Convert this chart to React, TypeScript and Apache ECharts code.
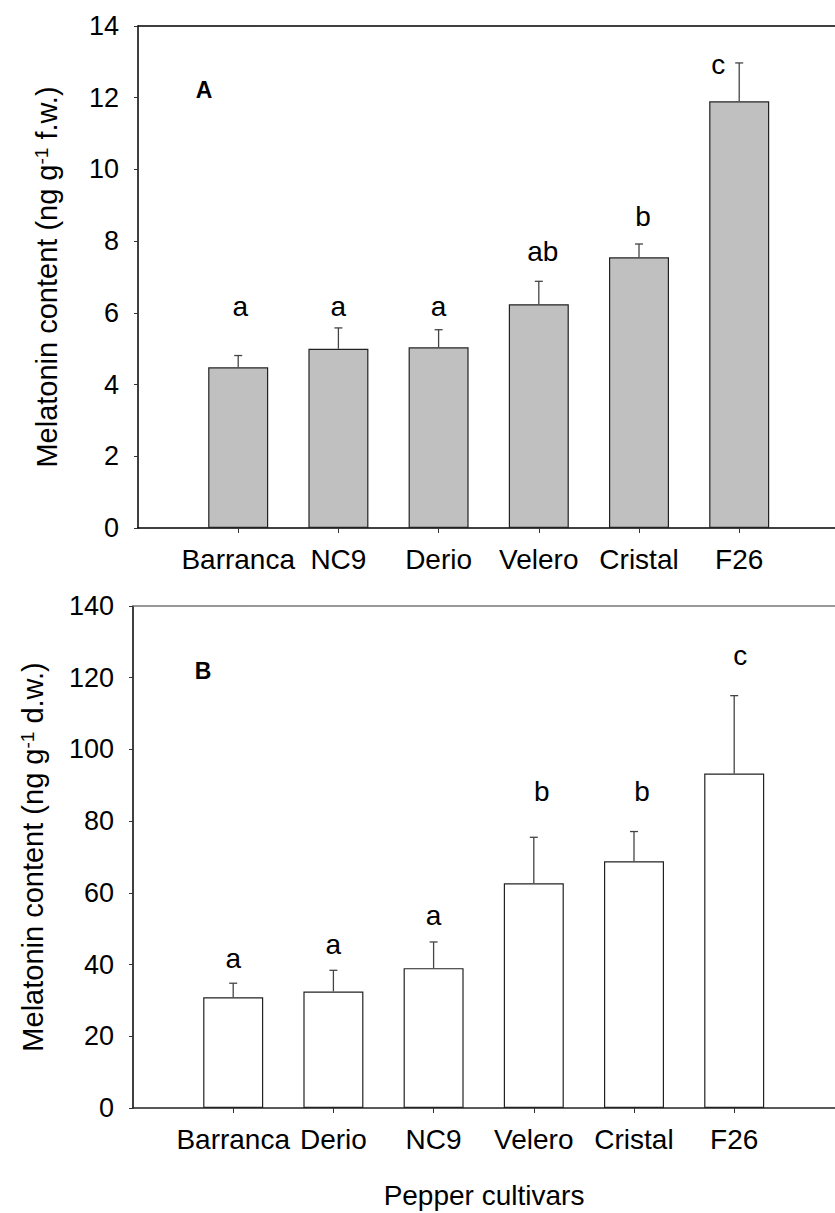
import React, { useEffect, useRef } from "react";
import * as echarts from "echarts";

// Panel A (fresh weight)
const catsA = ["Barranca", "NC9", "Derio", "Velero", "Cristal", "F26"];
const meanA = [4.48, 5.0, 5.04, 6.24, 7.55, 11.9];
const errTopA = [4.81, 5.58, 5.53, 6.88, 7.92, 12.97];
const lettersA = ["a", "a", "a", "ab", "b", "c"];
const letterXA = [1.02, 2.0, 3.0, 4.04, 5.04, 5.79];
const letterYA = [6.18, 6.18, 6.18, 7.7, 8.68, 12.92];
const ticksA = [0, 2, 4, 6, 8, 10, 12, 14];

// Panel B (dry weight)
const catsB = ["Barranca", "Derio", "NC9", "Velero", "Cristal", "F26"];
const meanB = [30.9, 32.5, 39.0, 62.7, 68.8, 93.3];
const errTopB = [34.8, 38.4, 46.3, 75.5, 77.1, 115.0];
const lettersB = ["a", "a", "a", "b", "b", "c"];
const letterXB = [1.0, 2.0, 3.0, 4.08, 5.08, 6.06];
const letterYB = [41.7, 45.6, 53.7, 88.3, 88.3, 126.2];
const ticksB = [0, 20, 40, 60, 80, 100, 120, 140];

const positions = [1, 2, 3, 4, 5, 6];
const FONT = "'Liberation Sans', Arial, Helvetica, sans-serif";

function xAxes(gridIndex: number, max: number, cats: string[], lineColor: string, topColor: string, name?: string) {
  return [
    {
      gridIndex,
      type: "value",
      min: 0,
      max,
      position: "bottom",
      name: name || "",
      nameLocation: "middle",
      nameGap: 73,
      nameTextStyle: { fontSize: 28, color: "#000", fontFamily: FONT },
      axisLine: { show: true, onZero: false, lineStyle: { color: lineColor, width: 1.5 } },
      axisTick: { show: true, customValues: positions, length: 5, inside: false, lineStyle: { color: "#333", width: 1 } },
      axisLabel: {
        show: true,
        customValues: positions,
        formatter: (v: number) => cats[Math.round(v) - 1] || "",
        fontSize: 28,
        color: "#000",
        fontFamily: FONT,
        margin: 17,
      },
      splitLine: { show: false },
    },
    {
      gridIndex,
      type: "value",
      min: 0,
      max,
      position: "top",
      axisLine: { show: true, onZero: false, lineStyle: { color: topColor, width: 1.5 } },
      axisTick: { show: false },
      axisLabel: { show: false },
      splitLine: { show: false },
    },
  ];
}

function yAxis(gridIndex: number, max: number, interval: number, ticks: number[], unit: string, gap: number) {
  return {
    gridIndex,
    type: "value",
    min: 0,
    max,
    interval,
    name: "Melatonin content (ng g{sup|-1} " + unit + ")",
    nameLocation: "middle",
    nameGap: gap,
    nameTextStyle: {
      fontSize: 29,
      color: "#000",
      fontFamily: FONT,
      rich: {
        sup: { fontSize: 19, fontFamily: FONT, color: "#000", verticalAlign: "top", lineHeight: 19 },
      },
    },
    axisLine: { show: true, onZero: false, lineStyle: { color: "#000", width: 1.5 } },
    axisTick: { show: true, length: 4, lineStyle: { color: "#333", width: 1 } },
    axisLabel: {
      show: true,
      customValues: ticks,
      fontSize: 27,
      color: "#000",
      fontFamily: FONT,
      margin: 19,
    },
    splitLine: { show: false },
  };
}

function barData(means: number[]) {
  return means.map((m, i) => [positions[i], m]);
}

function errData(means: number[], tops: number[]) {
  return means.map((m, i) => [positions[i], m, tops[i]]);
}

function letterData(xs: number[], ys: number[]) {
  return xs.map((x, i) => [x, ys[i]]);
}

function errSeries(xi: number, yi: number, means: number[], tops: number[]) {
  return {
    type: "custom",
    xAxisIndex: xi,
    yAxisIndex: yi,
    data: errData(means, tops),
    z: 3,
    renderItem: (params: any, api: any) => {
      const x = api.value(0);
      const p0 = api.coord([x, api.value(1)]);
      const p1 = api.coord([x, api.value(2)]);
      const st = { stroke: "#444", lineWidth: 1.3 };
      return {
        type: "group",
        children: [
          { type: "line", shape: { x1: p0[0], y1: p0[1], x2: p1[0], y2: p1[1] }, style: st },
          { type: "line", shape: { x1: p1[0] - 4, y1: p1[1], x2: p1[0] + 4, y2: p1[1] }, style: st },
        ],
      };
    },
  };
}

function letterSeries(xi: number, yi: number, xs: number[], ys: number[], letters: string[]) {
  return {
    type: "custom",
    xAxisIndex: xi,
    yAxisIndex: yi,
    data: letterData(xs, ys),
    z: 4,
    renderItem: (params: any, api: any) => {
      const p = api.coord([api.value(0), api.value(1)]);
      return {
        type: "text",
        x: p[0],
        y: p[1],
        style: {
          text: letters[params.dataIndex],
          fontSize: 28,
          fontFamily: FONT,
          fill: "#000",
          align: "center",
          verticalAlign: "middle",
        },
      };
    },
  };
}

export default function App() {
  const ref = useRef<HTMLDivElement>(null);
  useEffect(() => {
    if (!ref.current) return;
    const chart = echarts.init(ref.current, null, { renderer: "svg" });
    const option: any = {
      animation: false,
      backgroundColor: "#fff",
      grid: [
        { left: 138, top: 26, width: 697, height: 502 },
        { left: 133, top: 606, width: 702, height: 502 },
      ],
      xAxis: [
        ...xAxes(0, 6.956, catsA, "#000", "#000"),
        ...xAxes(1, 7.006, catsB, "#222", "#777", "Pepper cultivars"),
      ],
      yAxis: [yAxis(0, 14, 2, ticksA, "f.w.", 77), yAxis(1, 140, 20, ticksB, "d.w.", 86)],
      graphic: [
        { type: "text", x: 204, y: 90, style: { text: "A", fontSize: 23, fontWeight: "bold", fontFamily: FONT, fill: "#000", align: "center", verticalAlign: "middle" } },
        { type: "text", x: 203, y: 671, style: { text: "B", fontSize: 23, fontWeight: "bold", fontFamily: FONT, fill: "#000", align: "center", verticalAlign: "middle" } },
      ],
      series: [
        {
          type: "bar",
          xAxisIndex: 0,
          yAxisIndex: 0,
          data: barData(meanA),
          barWidth: 60,
          itemStyle: { color: "#c0c0c0", borderColor: "#222", borderWidth: 1.2 },
        },
        errSeries(0, 0, meanA, errTopA),
        letterSeries(0, 0, letterXA, letterYA, lettersA),
        {
          type: "bar",
          xAxisIndex: 2,
          yAxisIndex: 1,
          data: barData(meanB),
          barWidth: 60,
          itemStyle: { color: "#ffffff", borderColor: "#222", borderWidth: 1.2 },
        },
        errSeries(2, 1, meanB, errTopB),
        letterSeries(2, 1, letterXB, letterYB, lettersB),
      ],
    };
    chart.setOption(option);
    return () => chart.dispose();
  }, []);
  return (
    <div
      ref={ref}
      style={{ position: "absolute", left: 0, top: 0, width: 835, height: 1213, background: "#fff" }}
    />
  );
}
